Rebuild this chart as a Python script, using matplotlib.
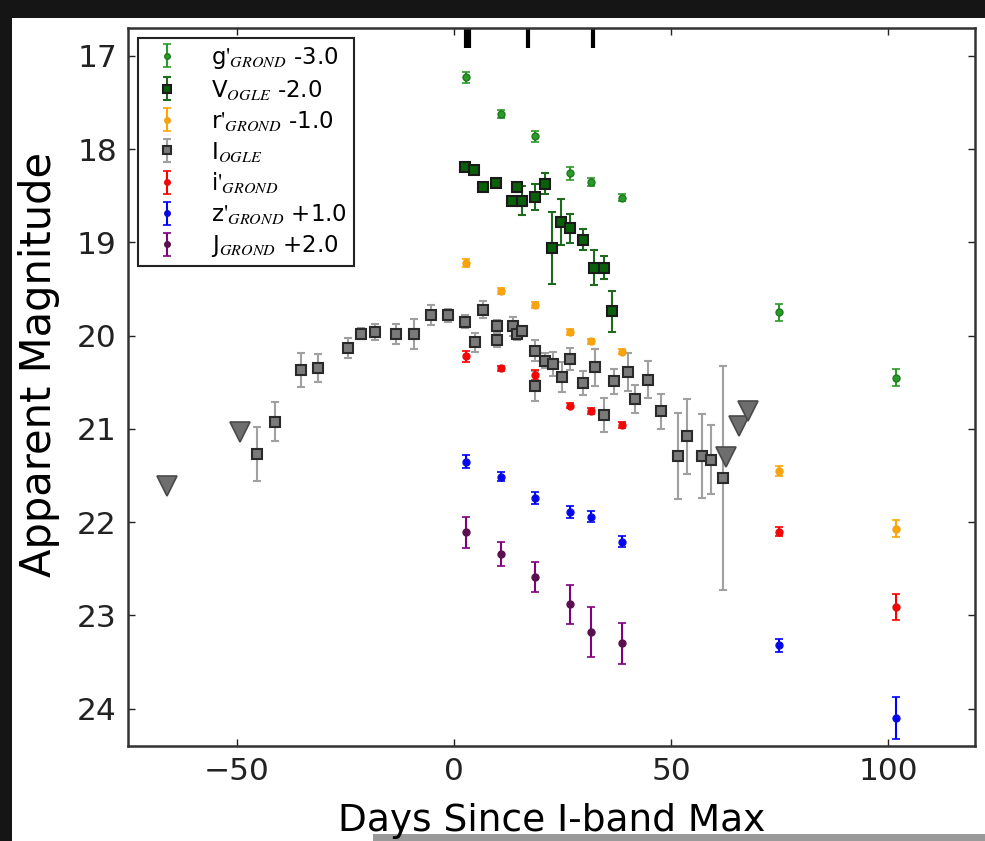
import numpy as np
import matplotlib
matplotlib.use('Agg')
import matplotlib.pyplot as plt
from matplotlib.patches import Rectangle
import matplotlib.transforms as mtransforms

plt.rcParams['font.family'] = ['DejaVu Sans']
plt.rcParams['mathtext.fontset'] = 'stix'

# %% DATA

# GROND epochs (days since I-band max)
grond_days = [2.9, 10.8, 18.8, 26.8, 31.7, 38.8, 74.8, 101.7]

g_mag = [20.23, 20.62, 20.86, 21.26, 21.35, 21.52, 22.75, 23.45]
g_err = [0.06, 0.04, 0.06, 0.07, 0.04, 0.04, 0.09, 0.09]
r_mag = [20.22, 20.52, 20.67, 20.96, 21.06, 21.17, 22.45, 23.07]
r_err = [0.04, 0.03, 0.03, 0.03, 0.03, 0.03, 0.05, 0.09]
i_mag = [20.22, 20.35, 20.42, 20.75, 20.81, 20.96, 22.10, 22.91]
i_err = [0.06, 0.03, 0.05, 0.03, 0.03, 0.03, 0.05, 0.14]
z_mag = [20.35, 20.51, 20.74, 20.89, 20.94, 21.21, 22.32, 23.10]
z_err = [0.07, 0.05, 0.06, 0.06, 0.06, 0.06, 0.07, 0.23]
J_mag = [20.11, 20.34, 20.59, 20.88, 21.18, 21.30]
J_err = [0.17, 0.13, 0.16, 0.21, 0.27, 0.22]

# OGLE V band
V_days = [2.6, 4.7, 6.8, 9.8, 13.5, 14.6, 15.6, 18.8, 20.9, 22.7, 24.8, 26.8,
          29.8, 32.2, 34.5, 36.5]
V_mag = [20.19, 20.22, 20.41, 20.36, 20.55, 20.41, 20.55, 20.51, 20.37, 21.06,
         20.78, 20.85, 20.97, 21.27, 21.27, 21.74]
V_err = [0.03, 0.03, 0.03, 0.03, 0.03, 0.05, 0.16, 0.14, 0.11, 0.39, 0.25,
         0.16, 0.11, 0.19, 0.12, 0.22]

# OGLE I band
I_days = [-45.3, -41.1, -35.1, -31.2, -24.3, -21.3, -18.1, -13.2, -9.1, -5.2,
          -1.3, 2.6, 5.0, 6.8, 10.0, 10.0, 13.7, 14.6, 15.8, 18.8, 18.8, 20.9,
          22.9, 25.0, 26.8, 29.8, 32.4, 34.5, 36.8, 40.2, 41.8, 44.8, 47.6,
          51.7, 53.8, 57.1, 59.2, 62.0]
I_mag = [21.27, 20.92, 20.37, 20.35, 20.13, 19.98, 19.96, 19.98, 19.98, 19.78,
         19.78, 19.85, 20.07, 19.72, 19.90, 20.05, 19.90, 19.98, 19.95, 20.16,
         20.54, 20.27, 20.30, 20.44, 20.25, 20.51, 20.34, 20.85, 20.49, 20.39,
         20.68, 20.47, 20.81, 21.29, 21.08, 21.29, 21.33, 21.53]
I_err = [0.29, 0.21, 0.18, 0.15, 0.11, 0.06, 0.09, 0.11, 0.16, 0.11, 0.07,
         0.07, 0.10, 0.09, 0.07, 0.07, 0.10, 0.07, 0.05, 0.11, 0.16, 0.08,
         0.13, 0.16, 0.12, 0.13, 0.20, 0.18, 0.13, 0.20, 0.15, 0.20, 0.19,
         0.46, 0.40, 0.45, 0.37, 1.20]

# OGLE I band upper limits
lim_days = [-66.0, -49.2, 62.6, 65.6, 67.7]
lim_mag = [21.61, 21.03, 21.30, 20.97, 20.81]

# Spectroscopy epochs (marks at top)
spec_days = [2.9, 3.6, 17.2, 32.1]

# Offsets
g_off, V_off, r_off, z_off, J_off = -3.0, -2.0, -1.0, 1.0, 2.0

# %% PLOT

fig = plt.figure(figsize=(9.85, 8.41), dpi=100, facecolor='#151515')
fig.patches.append(Rectangle((12/985, 0), 1, 1 - 18/841, transform=fig.transFigure,
                             facecolor='white', edgecolor='none', zorder=-5))
fig.patches.append(Rectangle((373/985, 0), 1, 7/841, transform=fig.transFigure,
                             facecolor='#9a9a9a', edgecolor='none', zorder=-4))

ax = fig.add_axes([128/985, 1 - 746/841, (975 - 128)/985, (746 - 28)/841])

gd = np.array(grond_days)
ebkw = dict(capsize=3, elinewidth=1.5, capthick=1.2, linestyle='none')

ax.errorbar(gd, np.array(g_mag) + g_off, yerr=g_err, fmt='o', color='#2a9a2a',
            ms=5, mec='#1f7a1f', label=r"g$'_{GROND}$ -3.0", **ebkw)
ax.errorbar(V_days, np.array(V_mag) + V_off, yerr=V_err, fmt='s', color='#0d6b0d',
            mfc='#0a600a', mec='#1a1a1a', mew=1.5, ms=7, ecolor='#1e6b1e',
            label=r"V$_{OGLE}$ -2.0", **ebkw)
ax.errorbar(gd, np.array(r_mag) + r_off, yerr=r_err, fmt='o', color='#ffa500',
            ms=5, mec='#f0a020', label=r"r$'_{GROND}$ -1.0", **ebkw)
ax.errorbar(I_days, I_mag, yerr=I_err, fmt='s', color='#9a9a9a', mfc='#7a7a7a',
            mec='#2a2a2a', mew=1.5, ms=7, ecolor='#a0a0a0',
            label=r"I$_{OGLE}$", **ebkw)
ax.errorbar(gd, i_mag, yerr=i_err, fmt='o', color='red', ms=5, mec='#e01010',
            label=r"i$'_{GROND}$", **ebkw)
ax.errorbar(gd, np.array(z_mag) + z_off, yerr=z_err, fmt='o', color='blue',
            ms=5, mec='#1010d0', label=r"z$'_{GROND}$ +1.0", **ebkw)
ax.errorbar(gd[:len(J_mag)], np.array(J_mag) + J_off, yerr=J_err, fmt='o',
            color='#800080', mfc='#5a1050', ms=5, mec='#5a1050',
            label=r"J$_{GROND}$ +2.0", **ebkw)

# upper limits
ax.plot(lim_days, lim_mag, 'v', color='#6e6e6e', mec='#4a4a4a', mew=1.2, ms=14,
        linestyle='none')

# spectroscopy marks along top axis
trans = mtransforms.blended_transform_factory(ax.transData, ax.transAxes)
ax.vlines(spec_days, 0.972, 1.0, colors='black', linewidth=3, transform=trans)

ax.set_xlim(-75, 120)
ax.set_ylim(24.4, 16.7)
ax.set_xticks([-50, 0, 50, 100])
ax.set_yticks([17, 18, 19, 20, 21, 22, 23, 24])
ax.tick_params(direction='in', top=True, right=True, length=5, width=1,
               labelsize=22.5, colors='#222222', pad=8)
for sp in ax.spines.values():
    sp.set_linewidth(1.8)
    sp.set_color('#333333')

ax.set_xlabel('Days Since I-band Max', fontsize=27, labelpad=12)
ax.set_ylabel('Apparent Magnitude', fontsize=30)
ax.yaxis.set_label_coords(-0.080, 0.531)

leg = ax.legend(loc='upper left', numpoints=1, fontsize=16.5, fancybox=False,
                framealpha=1, edgecolor='#222222', labelspacing=0.3,
                handletextpad=1.0, borderpad=0.3, handlelength=1.9,
                borderaxespad=0, markerscale=0.8,
                bbox_to_anchor=(10/847, 1 - 10/718))
leg.get_frame().set_linewidth(1.5)

fig.savefig('out.png', dpi=100, facecolor=fig.get_facecolor())
